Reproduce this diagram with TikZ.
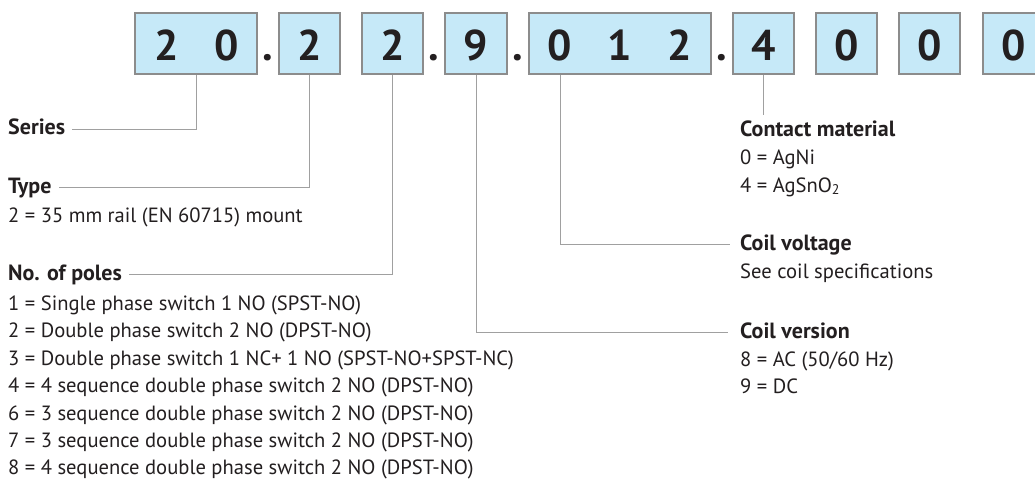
\documentclass[tikz,border=0pt]{standalone}
\usepackage{fontspec}
\setmainfont{PT Sans}
\usetikzlibrary{calc}
\definecolor{boxfill}{HTML}{C6E9F8}
\definecolor{boxline}{HTML}{8C8C8C}
\definecolor{connc}{HTML}{A0A0A0}
\definecolor{ink}{HTML}{231F20}
\tikzset{
  codebox/.style={draw=boxline, line width=2pt, fill=boxfill, inner sep=0pt, minimum height=61pt},
  digit/.style={anchor=base, inner sep=0pt, text=ink, font=\fontsize{43}{43}\selectfont\bfseries},
  sep/.style={anchor=base, inner sep=0pt, text=ink, font=\fontsize{43}{43}\selectfont\bfseries},
  head/.style={anchor=base west, inner sep=0pt, text=ink, font=\fontsize{22}{24}\selectfont\bfseries},
  body/.style={anchor=base west, inner sep=0pt, text=ink, font=\fontsize{20.6}{22}\selectfont},
  connector/.style={draw=connc, line width=1pt},
}
\begin{document}
\begin{tikzpicture}[x=1pt,y=-1pt]
\useasboundingbox (0,0) rectangle (1035,483);
\clip (0,0) rectangle (1035,483);
\fill[white] (0,0) rectangle (1035,483);
% boxes
\node[codebox, minimum width=122pt] (b1) at (196,43.5) {};
\node[codebox, minimum width=61pt] (b2) at (309.5,43.5) {};
\node[codebox, minimum width=61pt] (b3) at (392.5,43.5) {};
\node[codebox, minimum width=62pt] (b4) at (476,43.5) {};
\node[codebox, minimum width=182pt] (b5) at (620,43.5) {};
\node[codebox, minimum width=61pt] (b6) at (763.5,43.5) {};
\node[codebox, minimum width=61pt] (b7) at (846.5,43.5) {};
\node[codebox, minimum width=61pt] (b8) at (929.5,43.5) {};
\node[codebox, minimum width=61pt] (b9) at (1013.5,43.5) {};
% digits
\node[digit] (d1a) at (167,60) {2};
\node[digit] (d1b) at (227,60) {0};
\node[digit] (d2) at (309.5,60) {2};
\node[digit] (d3) at (392.5,60) {2};
\node[digit] (d4) at (476,60) {9};
\node[digit] (d5a) at (560,60) {0};
\node[digit] (d5b) at (620,60) {1};
\node[digit] (d5c) at (680,60) {2};
\node[digit] (d6) at (763.5,60) {4};
\node[digit] (d7) at (846.5,60) {0};
\node[digit] (d8) at (929.5,60) {0};
\node[digit] (d9) at (1013.5,60) {0};
% separators
\node[sep] (s1) at (268,60) {.};
\node[sep] (s2) at (434,60) {.};
\node[sep] (s3) at (518,60) {.};
\node[sep] (s4) at (722,60) {.};
% left labels
\node[head] (series) at (8,134) {Series};
\node[head] (type) at (8,193) {Type};
\node[body] (type1) at (8,222) {2 = 35 mm rail (EN 60715) mount};
\node[head] (poles) at (8,280) {No. of poles};
\node[body] (p1) at (8,310) {1 = Single phase switch 1 NO (SPST-NO)};
\node[body] (p2) at (8,337.5) {2 = Double phase switch 2 NO (DPST-NO)};
\node[body] (p3) at (8,365) {3 = Double phase switch 1 NC+ 1 NO (SPST-NO+SPST-NC)};
\node[body] (p4) at (8,392.5) {4 = 4 sequence double phase switch 2 NO (DPST-NO)};
\node[body] (p6) at (8,420) {6 = 3 sequence double phase switch 2 NO (DPST-NO)};
\node[body] (p7) at (8,447) {7 = 3 sequence double phase switch 2 NO (DPST-NO)};
\node[body] (p8) at (8,474.5) {8 = 4 sequence double phase switch 2 NO (DPST-NO)};
% right labels
\node[head] (contact) at (740,136) {Contact material};
\node[body] (c0) at (740,164) {0 = AgNi};
\node[body] (c4) at (740,192) {4 = AgSnO\raisebox{-0.12em}{\fontsize{14}{14}\selectfont 2}};
\node[head] (cvolt) at (740,250) {Coil voltage};
\node[body] (cv1) at (740,278) {See coil specifications};
\node[head] (cvers) at (740,338) {Coil version};
\node[body] (cver8) at (740,366) {8 = AC (50/60 Hz)};
\node[body] (cver9) at (740,393) {9 = DC};
% connectors
\draw[connector] (b1.south) |- ($(series.base east)+(7,-5)$);
\draw[connector] (b2.south) |- ($(type.base east)+(7,-6)$);
\draw[connector] (b3.south) |- ($(poles.base east)+(7,-6)$);
\draw[connector] (b4.south) |- ($(cvers.base west)+(-12,-6)$);
\draw[connector] (b5.south -| d5a) |- ($(cvolt.base west)+(-10,-6)$);
\draw[connector] (b6.south) -- ($(b6.south |- contact.north)+(0,-5)$);
\end{tikzpicture}
\end{document}
